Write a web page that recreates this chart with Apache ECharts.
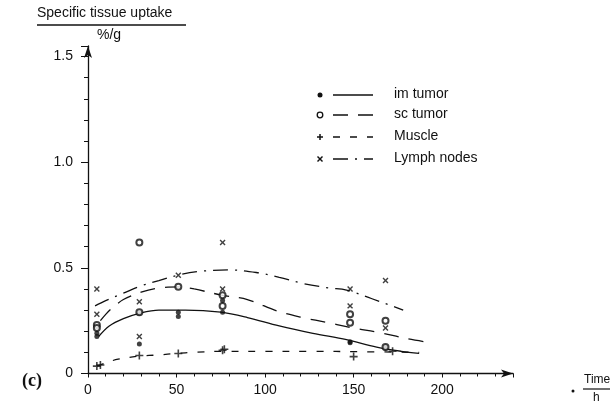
<!DOCTYPE html>
<html>
<head>
<meta charset="utf-8">
<title>Specific tissue uptake</title>
<script src="https://cdn.jsdelivr.net/npm/echarts@6/dist/echarts.min.js"></script>
<style>
  html, body { margin: 0; padding: 0; background: #fff; }
  #chart { width: 614px; height: 407px; }
</style>
</head>
<body>
<div id="chart"></div>
<script>
  // measured points (time in h, uptake in %/g)
  var imTime = [5, 5, 29, 29, 51, 51, 76, 76, 148, 148, 168, 168];
  var imValue = [0.19, 0.175, 0.285, 0.14, 0.29, 0.27, 0.345, 0.29, 0.15, 0.145, 0.125, 0.12];
  var scTime = [5, 5, 29, 29, 51, 76, 76, 148, 148, 168, 168];
  var scValue = [0.23, 0.215, 0.62, 0.29, 0.41, 0.37, 0.32, 0.28, 0.24, 0.25, 0.125];
  var muscleTime = [5, 7, 29, 51, 76, 77, 150, 172];
  var muscleValue = [0.035, 0.04, 0.085, 0.095, 0.11, 0.115, 0.08, 0.105];
  var lymphTime = [5, 5, 29, 29, 51, 76, 76, 148, 148, 168, 168];
  var lymphValue = [0.40, 0.28, 0.34, 0.175, 0.465, 0.62, 0.40, 0.40, 0.32, 0.44, 0.215];

  // fitted curves
  var imCurveTime = [6, 12, 20, 29, 40, 55, 75, 90, 108, 127, 146, 163, 177, 187];
  var imCurveValue = [0.175, 0.225, 0.26, 0.285, 0.30, 0.30, 0.29, 0.265, 0.225, 0.19, 0.16, 0.125, 0.105, 0.095];
  var scCurveTime = [7, 10, 13, 20, 30, 40, 52, 60, 76, 90, 107, 121, 136, 150, 164, 180, 194];
  var scCurveValue = [0.25, 0.28, 0.305, 0.35, 0.385, 0.405, 0.41, 0.40, 0.37, 0.35, 0.295, 0.265, 0.24, 0.215, 0.195, 0.165, 0.145];
  var muscleCurveTime = [5, 10, 17, 29, 40, 50, 60, 76, 100, 125, 155, 187];
  var muscleCurveValue = [0.035, 0.05, 0.068, 0.082, 0.088, 0.095, 0.10, 0.105, 0.105, 0.105, 0.103, 0.10];
  var lymphCurveTime = [4, 10, 20, 30, 40, 53, 65, 80, 95, 108, 122, 136, 146, 160, 170, 178];
  var lymphCurveValue = [0.32, 0.345, 0.38, 0.415, 0.44, 0.47, 0.485, 0.49, 0.478, 0.455, 0.425, 0.405, 0.395, 0.355, 0.325, 0.30];

  var legendNames = ['im tumor', 'sc tumor', 'Muscle', 'Lymph nodes'];

  var ink = '#111';
  var font = 'Liberation Sans, Arial, Helvetica, sans-serif';
  var plusPath = 'path://M4,0H6V4H10V6H6V10H4V6H0V4H4Z';

  function zip(xs, ys) {
    var res = [];
    for (var i = 0; i < xs.length; i++) res.push([xs[i], ys[i]]);
    return res;
  }

  function curve(name, xs, ys, dash) {
    return {
      name: name, type: 'line', data: zip(xs, ys), smooth: 0.35,
      symbol: 'none', silent: true, z: 2,
      lineStyle: { color: ink, width: 1.3, type: dash }
    };
  }

  function points(name, xs, ys, symbol, size, rotate) {
    return {
      name: name, type: 'scatter', data: zip(xs, ys), symbol: symbol,
      symbolSize: size, symbolRotate: rotate || 0, z: 3,
      itemStyle: { color: ink, borderColor: ink, borderWidth: symbol === 'emptyCircle' ? 1.3 : 0 }
    };
  }

  // legend drawn by hand: marker, line sample, text
  var legendY = [95, 115, 137, 159];
  var legendDash = [null, [15, 10], [7, 10], [15, 7, 2, 7]];
  var graphics = [];
  legendNames.forEach(function (name, i) {
    var y = legendY[i];
    if (i === 0) graphics.push({ type: 'circle', shape: { cx: 320, cy: y, r: 2.5 }, style: { fill: ink } });
    if (i === 1) graphics.push({ type: 'circle', shape: { cx: 320, cy: y, r: 2.8 }, style: { fill: '#fff', stroke: ink, lineWidth: 1.3 } });
    if (i === 2) {
      graphics.push({ type: 'line', shape: { x1: 317, y1: y, x2: 323, y2: y }, style: { stroke: ink, lineWidth: 1.5 } });
      graphics.push({ type: 'line', shape: { x1: 320, y1: y - 3, x2: 320, y2: y + 3 }, style: { stroke: ink, lineWidth: 1.5 } });
    }
    if (i === 3) {
      graphics.push({ type: 'line', shape: { x1: 317.5, y1: y - 2.5, x2: 322.5, y2: y + 2.5 }, style: { stroke: ink, lineWidth: 1.4 } });
      graphics.push({ type: 'line', shape: { x1: 317.5, y1: y + 2.5, x2: 322.5, y2: y - 2.5 }, style: { stroke: ink, lineWidth: 1.4 } });
    }
    graphics.push({ type: 'line', shape: { x1: 333, y1: y, x2: 373, y2: y },
      style: { stroke: ink, lineWidth: 1.3, lineDash: legendDash[i] } });
    graphics.push({ type: 'text', left: 394, top: y - 8,
      style: { text: name, fill: ink, font: '14px ' + font } });
  });

  graphics.push(
    { type: 'text', left: 37, top: 6, style: { text: 'Specific tissue uptake', fill: ink, font: '14px ' + font } },
    { type: 'line', shape: { x1: 37, y1: 25, x2: 186, y2: 25 }, style: { stroke: ink, lineWidth: 1.5 } },
    { type: 'text', left: 97, top: 28, style: { text: '%/g', fill: ink, font: '14px ' + font } },
    { type: 'text', left: 22, top: 372, style: { text: '(c)', fill: ink, font: 'bold 18px Liberation Serif, Times New Roman, serif' } },
    { type: 'circle', shape: { cx: 573, cy: 391, r: 1.5 }, style: { fill: ink } },
    { type: 'text', left: 584, top: 374, style: { text: 'Time', fill: ink, font: '12px ' + font } },
    { type: 'line', shape: { x1: 583, y1: 389, x2: 610, y2: 389 }, style: { stroke: ink, lineWidth: 1.2 } },
    { type: 'text', left: 593, top: 392, style: { text: 'h', fill: ink, font: '12px ' + font } }
  );

  var chart = echarts.init(document.getElementById('chart'), null, { renderer: 'canvas' });
  var option = {
    backgroundColor: '#fff',
    animation: false,
    grid: { left: 88, right: 101, top: 46, bottom: 33.5 },
    xAxis: {
      type: 'value', min: 0, max: 240, interval: 50,
      axisLine: { lineStyle: { color: ink, width: 1.3 }, symbol: ['none', 'arrow'], symbolSize: [6, 12] },
      axisTick: { show: true, length: 4, lineStyle: { color: ink } },
      minorTick: { show: true, splitNumber: 5, length: 3, lineStyle: { color: ink } },
      axisLabel: { color: ink, fontSize: 14, fontFamily: font, margin: 10, showMaxLabel: false },
      splitLine: { show: false }
    },
    yAxis: {
      type: 'value', min: 0, max: 1.55, interval: 0.5,
      axisLine: { show: true, lineStyle: { color: ink, width: 1.3 }, symbol: ['none', 'arrow'], symbolSize: [6, 12] },
      axisTick: { show: true, length: 7, lineStyle: { color: ink } },
      minorTick: { show: true, splitNumber: 5, length: 4, lineStyle: { color: ink } },
      axisLabel: { color: ink, fontSize: 14, fontFamily: font, margin: 15, showMaxLabel: false,
        formatter: function (v) { return v === 0 ? '0' : v.toFixed(1); } },
      splitLine: { show: false }
    },
    series: [
      curve(legendNames[0], imCurveTime, imCurveValue, 'solid'),
      curve(legendNames[1], scCurveTime, scCurveValue, [15, 10]),
      curve(legendNames[2], muscleCurveTime, muscleCurveValue, [7, 10]),
      curve(legendNames[3], lymphCurveTime, lymphCurveValue, [15, 7, 2, 7]),
      points(legendNames[0], imTime, imValue, 'circle', 5),
      points(legendNames[1], scTime, scValue, 'emptyCircle', 6),
      points(legendNames[2], muscleTime, muscleValue, plusPath, 8),
      points(legendNames[3], lymphTime, lymphValue, plusPath, 7, 45)
    ],
    graphic: graphics
  };
  chart.setOption(option);
</script>
</body>
</html>
